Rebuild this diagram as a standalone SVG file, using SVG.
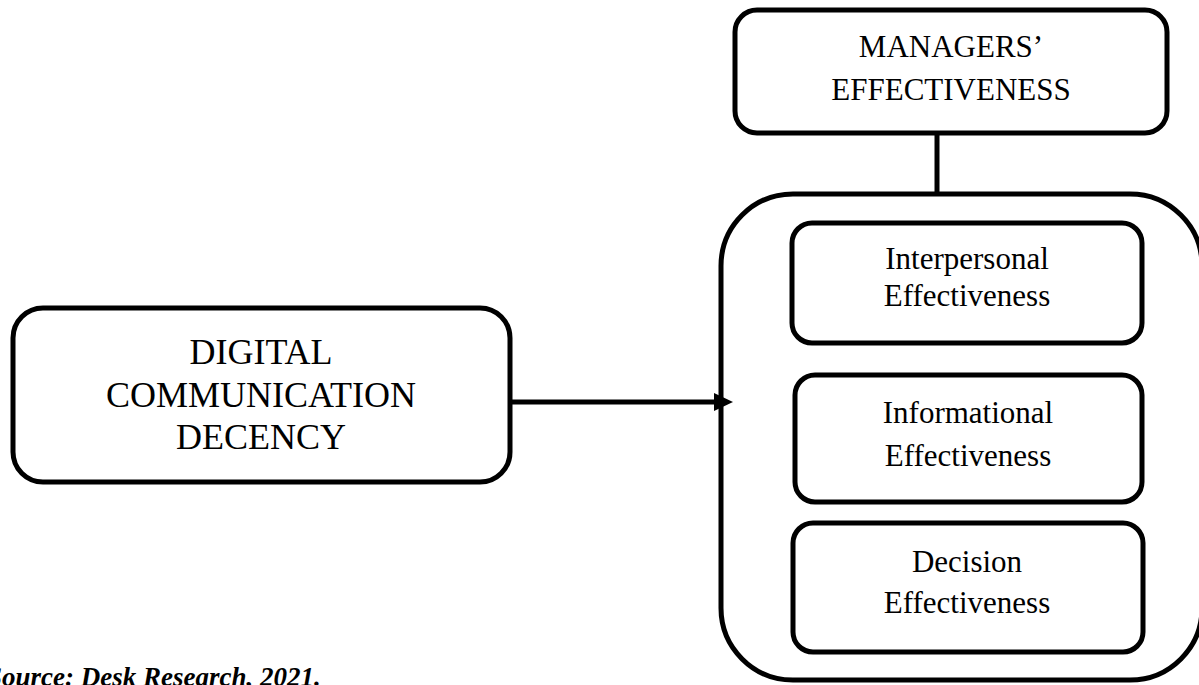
<svg xmlns="http://www.w3.org/2000/svg" width="1199" height="685" viewBox="0 0 1199 685">
<style>
.box{fill:#fff;stroke:#000;stroke-width:5}
.t{font-family:"Liberation Serif","Times New Roman",serif;fill:#000;text-anchor:middle}
.conn{stroke:#000;stroke-width:5;fill:none}
</style>
<g id="managers">
<rect class="box" x="735" y="10" width="432" height="123" rx="22"/>
<text class="t" x="951" y="57" font-size="31">MANAGERS’</text>
<text class="t" x="951" y="100" font-size="31">EFFECTIVENESS</text>
</g>
<g id="outer">
<rect class="box" x="721" y="194" width="481" height="486" rx="72"/>
</g>
<g id="interpersonal">
<rect class="box" x="792" y="223" width="350" height="120" rx="20"/>
<text class="t" x="967" y="269" font-size="31">Interpersonal</text>
<text class="t" x="967" y="306" font-size="31">Effectiveness</text>
</g>
<g id="informational">
<rect class="box" x="795" y="375" width="347" height="127" rx="20"/>
<text class="t" x="968" y="423" font-size="31">Informational</text>
<text class="t" x="968" y="466" font-size="31">Effectiveness</text>
</g>
<g id="decision">
<rect class="box" x="793" y="523" width="350" height="129" rx="20"/>
<text class="t" x="967" y="572" font-size="31">Decision</text>
<text class="t" x="967" y="613" font-size="31">Effectiveness</text>
</g>
<g id="digital">
<rect class="box" x="13" y="308" width="497" height="174" rx="30"/>
<text class="t" x="261" y="364" font-size="36">DIGITAL</text>
<text class="t" x="261" y="407" font-size="36">COMMUNICATION</text>
<text class="t" x="261" y="449" font-size="36">DECENCY</text>
</g>
<g id="connectors">
<line class="conn" x1="937" y1="133" x2="937" y2="194"/>
<line class="conn" x1="510" y1="402" x2="716" y2="402"/>
<path d="M714,393 L733,402 L714,411 z" fill="#000"/>
</g>
<text x="-13" y="686" font-family="'Liberation Serif','Times New Roman',serif" font-size="27" font-weight="bold" font-style="italic">Source: Desk Research, 2021.</text>
</svg>
